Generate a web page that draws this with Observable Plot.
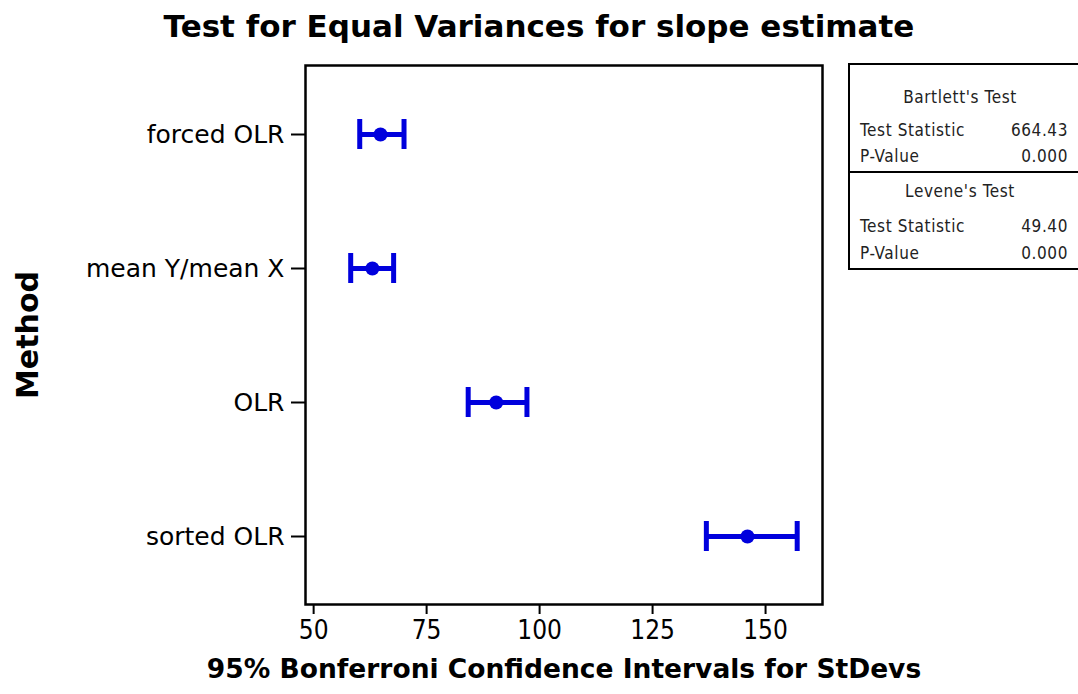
<!DOCTYPE html>
<html>
<head>
<meta charset="utf-8">
<script src="https://cdn.jsdelivr.net/npm/d3@7"></script>
<script src="https://cdn.jsdelivr.net/npm/@observablehq/plot@0.6"></script>
<style>
  html, body { margin: 0; padding: 0; background: #fff; }
  #wrap { position: relative; width: 1078px; height: 694px; overflow: hidden; }
  #chart { position: absolute; left: 0; top: 0; }
  #title { position: absolute; left: 0; top: 8px; width: 1078px; text-align: center;
           font-family: "DejaVu Sans", Verdana, sans-serif; font-weight: bold; font-size: 31px; color: #000; }
  #stats { position: absolute; left: 848px; top: 63px; width: 240px; height: 203px; border: 2px solid #000; border-right: none;
           font-family: "DejaVu Sans Condensed", "DejaVu Sans", sans-serif; font-size: 17px; color: #222; letter-spacing: 0.6px; }
  #stats .divider { position: absolute; left: 0; width: 240px; top: 106px; border-top: 2px solid #000; }
  #stats .t { position: absolute; line-height: 20px; white-space: nowrap; }
  #stats .hd { width: 220px; text-align: center; }
  #stats .lab { left: 10px; }
  #stats .val { right: 22px; text-align: right; }
</style>
</head>
<body>
<div id="wrap">
  <div id="chart"></div>
  <div id="title"></div>
  <div id="stats"><div class="divider"></div></div>
</div>
<script>
const titleText = "Test for Equal Variances for slope estimate";
const xLabel = "95% Bonferroni Confidence Intervals for StDevs";
const yLabel = "Method";

const methods = ["forced OLR", "mean Y/mean X", "OLR", "sorted OLR"];
const lower   = [60.2, 58.2, 84.2, 136.9];
const estimate= [64.8, 63.0, 90.4, 146.0];
const upper   = [70.0, 67.7, 97.2, 157.0];
const xTicks  = [50, 75, 100, 125, 150];

const testNames  = ["Bartlett's Test", "Levene's Test"];
const testStats  = ["664.43", "49.40"];
const testPvals  = ["0.000", "0.000"];

const data = methods.map((m, i) => ({method: m, lo: lower[i], est: estimate[i], hi: upper[i]}));

document.getElementById("title").textContent = titleText;

const blue = "#0000dd";
const capInset = 52;
const plot = Plot.plot({
  width: 1078,
  height: 694,
  marginTop: 65,
  marginBottom: 90,
  marginLeft: 305,
  marginRight: 256,
  style: {fontFamily: "'DejaVu Sans', sans-serif", background: "#fff", color: "#000"},
  x: {domain: [48.2, 162.6], ticks: xTicks},
  y: {domain: methods, type: "band", padding: 0},
  marks: [
    Plot.frame({stroke: "#000", strokeWidth: 2.5}),
    Plot.axisX({ticks: xTicks, tickSize: 10, tickPadding: 6, fontSize: 26, label: null, strokeWidth: 2,
      fontFamily: "'DejaVu Sans Condensed', 'DejaVu Sans', sans-serif"}),
    Plot.axisY({tickSize: 14, tickPadding: 7, fontSize: 25, label: null, strokeWidth: 2,
      fontFamily: "'DejaVu Sans', sans-serif"}),
    Plot.ruleY(data, {y: "method", x1: "lo", x2: "hi", stroke: blue, strokeWidth: 5}),
    Plot.tickX(data, {x: "lo", y: "method", stroke: blue, strokeWidth: 5, insetTop: capInset, insetBottom: capInset}),
    Plot.tickX(data, {x: "hi", y: "method", stroke: blue, strokeWidth: 5, insetTop: capInset, insetBottom: capInset}),
    Plot.dot(data, {x: "est", y: "method", r: 7, fill: blue, stroke: null}),
    Plot.text([yLabel], {frameAnchor: "left", textAnchor: "middle", dx: -277, rotate: -90, fontWeight: "bold", fontSize: 30,
      fontFamily: "'DejaVu Sans', Verdana, sans-serif", fill: "#000"}),
    Plot.text([xLabel], {frameAnchor: "bottom", textAnchor: "middle", dy: 73, fontWeight: "bold", fontSize: 26.5,
      fontFamily: "'DejaVu Sans', Verdana, sans-serif", fill: "#000"})
  ]
});
document.getElementById("chart").appendChild(plot);

const stats = document.getElementById("stats");
function addText(cls, top, text) {
  const d = document.createElement("div");
  d.className = "t " + cls;
  d.style.top = top + "px";
  d.textContent = text;
  stats.appendChild(d);
}
const sectionTops = [0, 108];
testNames.forEach((name, i) => {
  const t0 = sectionTops[i];
  addText("hd", t0 + (i === 0 ? 22 : 8), name);
  addText("lab", t0 + (i === 0 ? 55 : 43), "Test Statistic");
  addText("val", t0 + (i === 0 ? 55 : 43), testStats[i]);
  addText("lab", t0 + (i === 0 ? 81 : 70), "P-Value");
  addText("val", t0 + (i === 0 ? 81 : 70), testPvals[i]);
});
</script>
</body>
</html>
